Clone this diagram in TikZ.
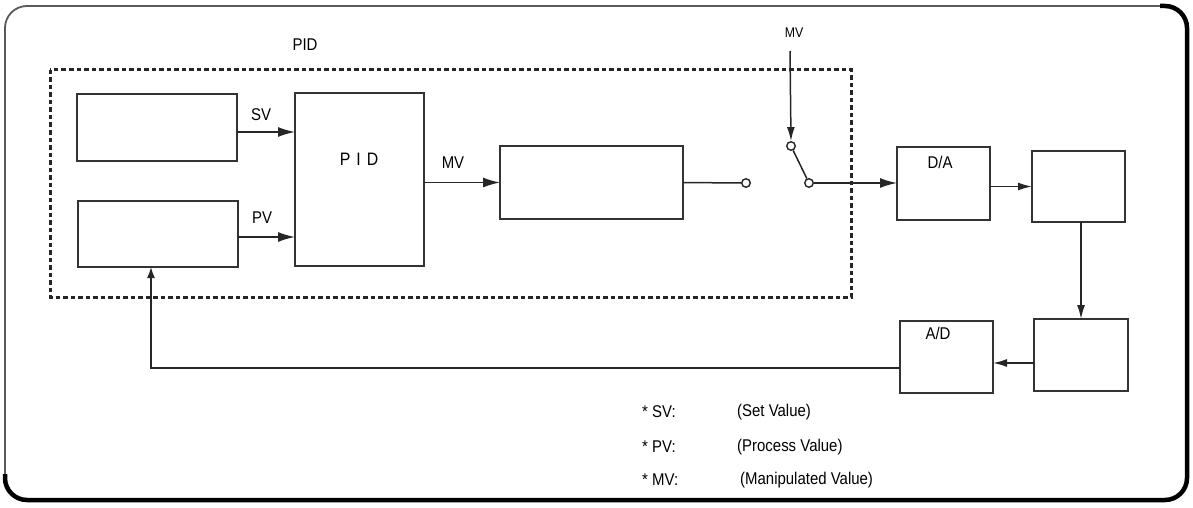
\documentclass[tikz,border=0pt]{standalone}
\usepackage{fontspec}
\setmainfont{Liberation Sans}[FakeStretch=0.88]
\usetikzlibrary{arrows.meta}
\begin{document}
\begin{tikzpicture}[x=1pt,y=-1pt,
  blk/.style={draw=black!80, line width=1.8pt, inner sep=0pt, outer sep=0pt},
  lbl/.style={inner sep=0pt, font=\fontsize{17}{20}\selectfont},
  leg/.style={inner sep=0pt, anchor=west, font=\fontsize{17}{20}\selectfont},
  conn/.style={draw=black!85, line width=1.5pt},
  arr/.style={conn, -{Latex[length=17pt,width=10pt]}},
  sarr/.style={conn, -{Latex[length=14pt,width=8pt]}},
  uarr/.style={conn, -{Latex[length=11pt,width=8pt]}},
  term/.style={circle, draw=black!85, line width=1.4pt, fill=white, inner sep=0pt, minimum size=8.5pt},
  dashbox/.style={draw=black!85, line width=3pt, dash pattern=on 4.5pt off 3pt}
]
\useasboundingbox (0,0) rectangle (1193,508);
% outer frame
\draw[black!65, line width=1.8pt, rounded corners=22pt] (5,6) rectangle (1187,500);
\draw[black, line width=4.5pt, rounded corners=22pt] (1160,6) -- (1187,6) -- (1187,500) -- (5,500) -- (5,474);
% dashed PID region
\draw[dashbox] (50,70) rectangle (851,297);
\node[lbl] (pidtitle) at (305,45) {PID};
% blocks
\node[blk, minimum width=160pt, minimum height=67pt] (b1) at (157,127.5) {};
\node[blk, minimum width=160pt, minimum height=66pt] (b2) at (158,234) {};
\node[blk, minimum width=129pt, minimum height=173pt] (pid) at (359.5,179.5) {};
\node[lbl, font=\fontsize{18}{20}\selectfont] (pidtxt) at (359,159) {P\,\,I\,\,D};
\node[blk, minimum width=183pt, minimum height=73pt] (b3) at (591.5,182.5) {};
\node[blk, minimum width=93pt, minimum height=73pt] (da) at (943.5,183.5) {};
\node[lbl] (datxt) at (940,162) {D/A};
\node[blk, minimum width=93pt, minimum height=71pt] (act) at (1078.5,186.5) {};
\node[blk, minimum width=94pt, minimum height=72pt] (sen) at (1081,355) {};
\node[blk, minimum width=93pt, minimum height=72pt] (ad) at (946.5,357) {};
\node[lbl] (adtxt) at (938,333) {A/D};
% switch terminals
\node[term] (c1) at (746,183) {};
\node[term] (c2) at (791,146) {};
\node[term] (c3) at (809,183) {};
\coordinate (mvtop) at (790,51);
\node[lbl, font=\fontsize{14}{16}\selectfont] (mvtxt) at (794,33) {MV};
% connectors
\draw[arr] ([yshift=-4.5pt]b1.east) -- ([yshift=-4.5pt]b1.east -| pid.west);
\node[lbl] (svtxt) at (261,115) {SV};
\draw[arr] ([yshift=-3pt]b2.east) -- ([yshift=-3pt]b2.east -| pid.west);
\node[lbl] (pvtxt) at (262,218) {PV};
\draw[arr] (b3.west -| pid.east) -- (b3.west);
\node[lbl] (mvlbl) at (453,163) {MV};
\draw[conn] (b3.east) -- (c1.west);
\draw[conn] (c2) -- (c3);
\draw[sarr] (mvtop) -- (c2.north);
\draw[arr] (c3.east) -- (c3.east -| da.west);
\draw[sarr] (act.west -| da.east) -- (act.west);
\draw[sarr] (act.south -| sen.north) -- (sen.north);
\draw[sarr] ([yshift=-8pt]sen.west) -- ([yshift=-8pt]sen.west -| ad.east);
\draw[uarr] ([yshift=-11pt]ad.west) -| ([xshift=-7pt]b2.south);
% legend
\node[leg] (l1a) at (642,412) {* SV:};
\node[leg] (l1b) at (737,412) {(Set Value)};
\node[leg] (l2a) at (642,447) {* PV:};
\node[leg] (l2b) at (737,447) {(Process Value)};
\node[leg] (l3a) at (642,480) {* MV:};
\node[leg] (l3b) at (740,480) {(Manipulated Value)};
\end{tikzpicture}
\end{document}
